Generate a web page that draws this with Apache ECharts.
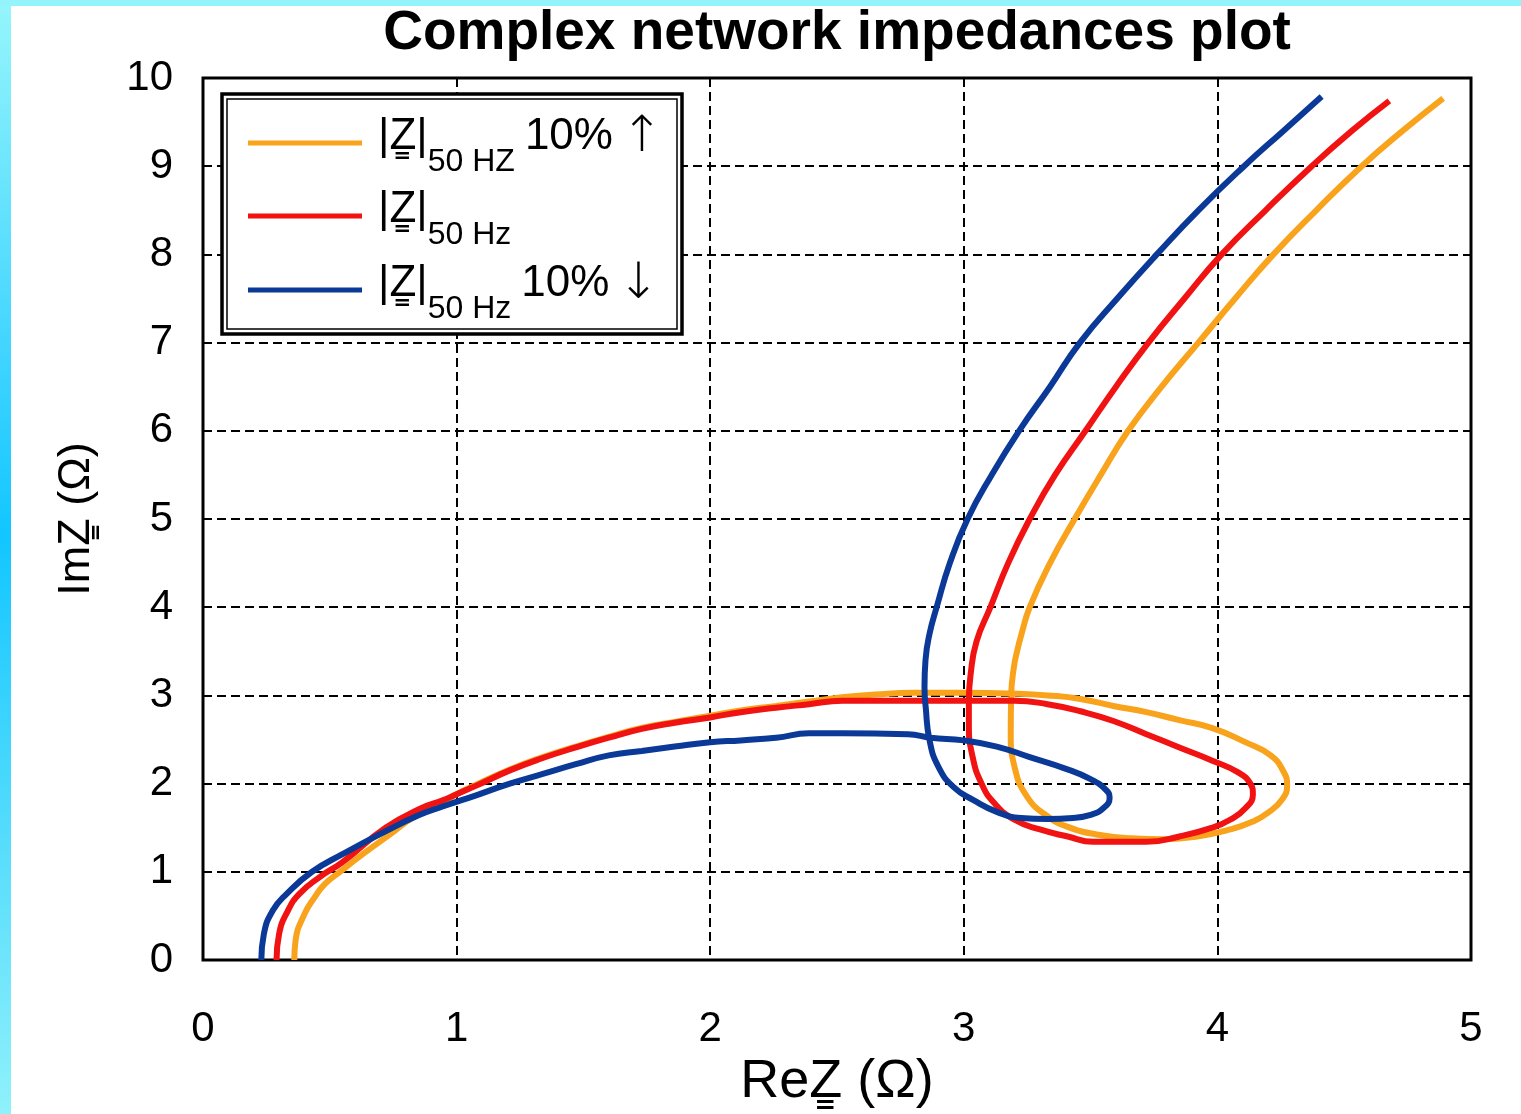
<!DOCTYPE html>
<html>
<head>
<meta charset="utf-8">
<script src="https://cdn.jsdelivr.net/npm/echarts@6/dist/echarts.min.js"></script>
<style>
  html, body { margin: 0; padding: 0; background: #ffffff; }
  #wrap { position: relative; width: 1521px; height: 1114px; overflow: hidden; background: #ffffff; }
  #leftStrip { position: absolute; left: 0; top: 0; width: 11px; height: 1114px;
    background: linear-gradient(to bottom, #96f6fb 0%, #45d6ff 30%, #12c6ff 48%, #55dcfc 75%, #8ff1fb 100%); }
  #topStrip { position: absolute; left: 0; top: 0; width: 1521px; height: 6px; background: #93f5fb; }
  #chart { position: absolute; left: 0; top: 0; width: 1521px; height: 1114px; }
</style>
</head>
<body>
<div id="wrap">
  <div id="leftStrip"></div>
  <div id="topStrip"></div>
  <div id="chart"></div>
</div>
<script>
// ---- Data (ReZ, ImZ in ohms) ----
const seriesNames = ['up', 'nominal', 'down'];
const seriesColors = ['#f8a31b', '#f11212', '#0b3997'];

const xTicks = [0, 1, 2, 3, 4, 5];
const yTicks = [0, 1, 2, 3, 4, 5, 6, 7, 8, 9, 10];

// |Z| 50 HZ 10% up (orange)
const reUp = [0.36, 0.365, 0.40, 0.44, 0.48, 0.54, 0.63, 0.74, 0.83, 0.95, 1.0, 1.08, 1.21, 1.34, 1.47, 1.60, 1.73, 1.86, 2.0, 2.12, 2.26, 2.39, 2.52, 2.65, 2.8, 3.0, 3.2, 3.33, 3.46, 3.59, 3.72, 3.85, 3.98, 4.11, 4.21, 4.26, 4.275, 4.255, 4.20, 4.14, 4.05, 3.92, 3.79, 3.66, 3.53, 3.41, 3.33, 3.25, 3.20, 3.185, 3.187, 3.197, 3.21, 3.228, 3.26, 3.34, 3.437, 3.54, 3.648, 3.78, 3.925, 4.07, 4.221, 4.39, 4.569, 4.73, 4.89];
const imUp = [0.0, 0.22, 0.52, 0.71, 0.86, 1.0, 1.2, 1.43, 1.62, 1.79, 1.88, 1.99, 2.16, 2.30, 2.42, 2.53, 2.63, 2.70, 2.77, 2.83, 2.88, 2.93, 2.98, 3.01, 3.03, 3.03, 3.02, 3.0, 2.96, 2.88, 2.81, 2.72, 2.63, 2.47, 2.32, 2.14, 1.98, 1.82, 1.67, 1.57, 1.48, 1.40, 1.37, 1.38, 1.42, 1.51, 1.63, 1.85, 2.19, 2.56, 3.01, 3.31, 3.5, 3.7, 4.0, 4.5, 5.0, 5.5, 6.0, 6.5, 7.0, 7.5, 8.0, 8.5, 9.0, 9.4, 9.77];

// |Z| 50 Hz (red)
const reNom = [0.29, 0.30, 0.335, 0.38, 0.46, 0.55, 0.72, 0.86, 0.945, 1.0, 1.08, 1.21, 1.34, 1.47, 1.60, 1.73, 1.86, 2.0, 2.12, 2.26, 2.39, 2.52, 2.8, 3.0, 3.2, 3.33, 3.46, 3.59, 3.72, 3.85, 3.98, 4.08, 4.13, 4.14, 4.11, 4.05, 3.98, 3.85, 3.72, 3.59, 3.51, 3.41, 3.30, 3.20, 3.12, 3.07, 3.035, 3.02, 3.02, 3.027, 3.05, 3.105, 3.175, 3.26, 3.36, 3.48, 3.60, 3.728, 3.87, 4.017, 4.19, 4.372, 4.53, 4.678];
const imNom = [0.0, 0.295, 0.56, 0.75, 0.94, 1.11, 1.50, 1.72, 1.81, 1.88, 1.98, 2.15, 2.29, 2.41, 2.52, 2.62, 2.69, 2.75, 2.81, 2.86, 2.90, 2.94, 2.94, 2.94, 2.94, 2.90, 2.82, 2.71, 2.56, 2.41, 2.26, 2.13, 2.0, 1.88, 1.72, 1.59, 1.50, 1.40, 1.34, 1.34, 1.34, 1.40, 1.48, 1.59, 1.78, 2.0, 2.30, 2.67, 2.94, 3.24, 3.61, 4.0, 4.5, 5.0, 5.5, 6.0, 6.5, 7.0, 7.5, 8.0, 8.5, 9.0, 9.4, 9.74];

// |Z| 50 Hz 10% down (blue)
const reDown = [0.23, 0.24, 0.275, 0.33, 0.43, 0.55, 0.70, 0.85, 0.945, 1.08, 1.21, 1.34, 1.47, 1.60, 1.73, 1.86, 2.0, 2.12, 2.26, 2.39, 2.52, 2.78, 2.87, 3.0, 3.13, 3.26, 3.40, 3.50, 3.56, 3.575, 3.55, 3.50, 3.43, 3.33, 3.225, 3.13, 3.04, 2.96, 2.90, 2.865, 2.85, 2.845, 2.849, 2.865, 2.893, 2.945, 3.015, 3.11, 3.218, 3.34, 3.458, 3.605, 3.761, 3.925, 4.105, 4.26, 4.411];
const imDown = [0.0, 0.295, 0.56, 0.75, 1.0, 1.2, 1.43, 1.64, 1.74, 1.87, 2.0, 2.11, 2.22, 2.32, 2.37, 2.42, 2.47, 2.49, 2.52, 2.57, 2.57, 2.56, 2.52, 2.49, 2.42, 2.30, 2.17, 2.05, 1.93, 1.84, 1.72, 1.645, 1.61, 1.60, 1.61, 1.68, 1.81, 1.96, 2.19, 2.49, 2.86, 3.1, 3.4, 3.7, 4.0, 4.5, 5.0, 5.5, 6.0, 6.5, 7.0, 7.5, 8.0, 8.5, 9.0, 9.4, 9.79];

const legendLabels = {
  up: '{z||Z\u0333|}{s|50 HZ}{p|10%}{a|\u2191}',
  nominal: '{z||Z\u0333|}{s|50 Hz}',
  down: '{z||Z\u0333|}{s|50 Hz}{p|10%}{a|\u2193}'
};

function zip(re, im) { return re.map((r, i) => [r, im[i]]); }
const curves = [zip(reUp, imUp), zip(reNom, imNom), zip(reDown, imDown)];

const FONT = '"Liberation Sans", Arial, Helvetica, sans-serif';
const chart = echarts.init(document.getElementById('chart'), null, { renderer: 'canvas' });

const legendRich = {
  z: { fontSize: 44, lineHeight: 44, padding: [4, 0, 16, 11], color: '#000', fontFamily: FONT },
  s: { fontSize: 32, lineHeight: 26, padding: [38, 0, 0, 0], color: '#000', fontFamily: FONT },
  p: { fontSize: 44, lineHeight: 44, padding: [4, 0, 16, 10], color: '#000', fontFamily: FONT },
  a: { fontSize: 50, lineHeight: 54, padding: [0, 0, 10, 8], color: '#000', fontFamily: '"DejaVu Sans", sans-serif', fontWeight: 'lighter' }
};
const legendTops = [108, 181, 255];

const option = {
  animation: false,
  title: {
    text: 'Complex network impedances plot',
    left: 837,
    top: 6,
    textAlign: 'center',
    padding: 0,
    textStyle: { fontFamily: FONT, fontWeight: 'bold', fontSize: 55, color: '#000' }
  },
  grid: {
    left: 203, right: 50, top: 78, bottom: 154,
    show: true, backgroundColor: '#ffffff', borderColor: '#000', borderWidth: 3
  },
  xAxis: {
    type: 'value', min: xTicks[0], max: xTicks[xTicks.length - 1], interval: 1,
    name: 'ReZ\u0333 (\u03A9)', nameLocation: 'middle', nameGap: 84,
    nameTextStyle: { fontFamily: FONT, fontSize: 54, color: '#000' },
    axisLine: { show: false }, axisTick: { show: false },
    axisLabel: { fontFamily: FONT, fontSize: 42, color: '#000', margin: 48 },
    splitLine: { show: true, lineStyle: { color: '#000', width: 2, type: [9, 5] } }
  },
  yAxis: {
    type: 'value', min: yTicks[0], max: yTicks[yTicks.length - 1], interval: 1,
    name: 'ImZ\u0333 (\u03A9)', nameLocation: 'middle', nameGap: 104,
    nameTextStyle: { fontFamily: FONT, fontSize: 45, color: '#000' },
    axisLine: { show: false }, axisTick: { show: false },
    axisLabel: { fontFamily: FONT, fontSize: 42, color: '#000', margin: 30 },
    splitLine: { show: true, lineStyle: { color: '#000', width: 2, type: [9, 5] } }
  },
  legend: seriesNames.map((n, i) => ({
    data: [n],
    left: 248,
    top: legendTops[i],
    padding: 0,
    z: 20,
    icon: 'rect',
    itemWidth: 114,
    itemHeight: 5,
    selectedMode: false,
    formatter: (name) => legendLabels[name],
    textStyle: { fontFamily: FONT, color: '#000', rich: legendRich }
  })),
  graphic: [
    { type: 'rect', z: 10, shape: { x: 222, y: 94, width: 460, height: 240 },
      style: { fill: '#ffffff', stroke: '#000', lineWidth: 3.5 } },
    { type: 'rect', z: 11, shape: { x: 227, y: 99, width: 450, height: 230 },
      style: { fill: 'none', stroke: '#000', lineWidth: 1.5 } }
  ],
  series: seriesNames.map((n, i) => ({
    name: n,
    type: 'line',
    data: curves[i],
    showSymbol: false,
    symbol: 'none',
    smooth: 0.5,
    clip: true,
    lineStyle: { color: seriesColors[i], width: 6 },
    itemStyle: { color: seriesColors[i] },
    z: 3 + i
  }))
};
chart.setOption(option);
</script>
</body>
</html>
